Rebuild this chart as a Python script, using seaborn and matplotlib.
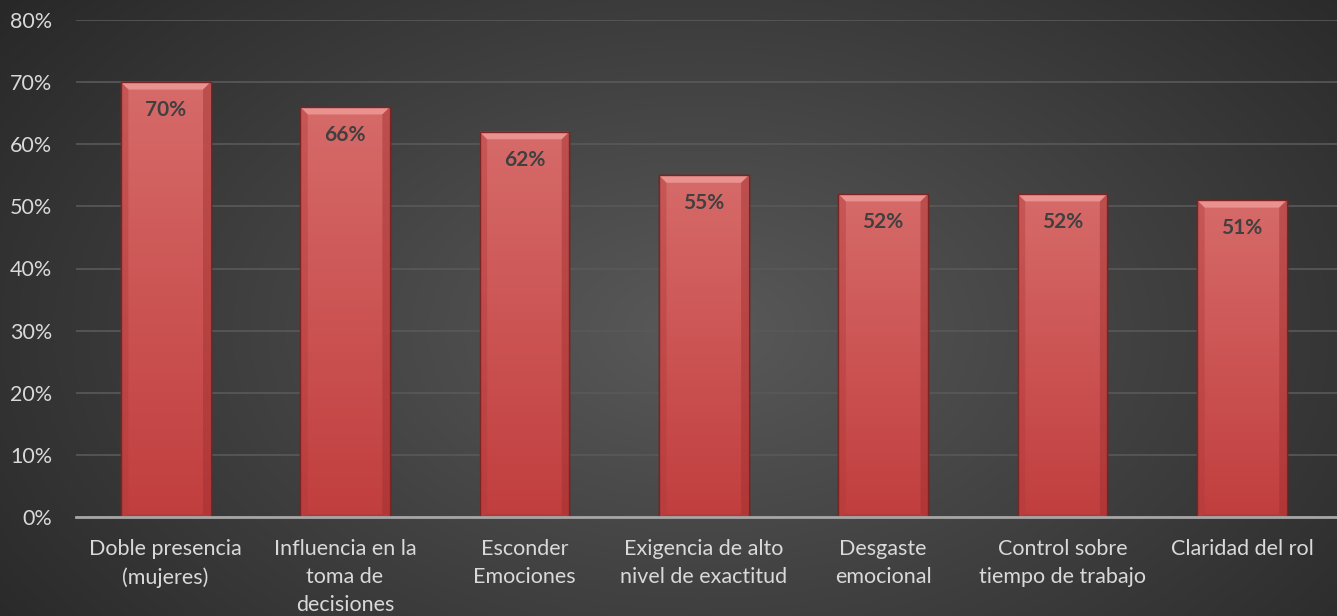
import numpy as np
import pandas as pd
import matplotlib
matplotlib.use("Agg")
import matplotlib.pyplot as plt
import seaborn as sns
from matplotlib.patches import Polygon
from matplotlib.colors import LinearSegmentedColormap

categories = ["Doble presencia\n(mujeres)", "Influencia en la\ntoma de\ndecisiones",
              "Esconder\nEmociones", "Exigencia de alto\nnivel de exactitud",
              "Desgaste\nemocional", "Control sobre\ntiempo de trabajo", "Claridad del rol"]
values = [0.70, 0.66, 0.62, 0.55, 0.52, 0.52, 0.51]
yticks = [0, 0.1, 0.2, 0.3, 0.4, 0.5, 0.6, 0.7, 0.8]

sns.set_style("white")
plt.rcParams['font.family'] = ['Lato', 'DejaVu Sans']

fig = plt.figure(figsize=(13.37, 6.16), dpi=100)

# radial gradient background
bg = fig.add_axes([0, 0, 1, 1], zorder=-10)
yy, xx = np.mgrid[0:616, 0:1337]
cx, cy = 700, 330
r = np.sqrt(((xx - cx) / 1000.0) ** 2 + ((yy - cy) / 620.0) ** 2)
v = np.clip(0.35 - 0.22 * r, 0.13, 0.35)
img = np.dstack([v, v, v])
bg.imshow(img, aspect='auto', extent=[0, 1, 0, 1], origin='upper')
bg.axis('off')

ax = fig.add_axes([76 / 1337, 1 - 517 / 616, 1 - 76 / 1337, (517 - 20) / 616])
ax.patch.set_alpha(0)

df = pd.DataFrame({"cat": categories, "val": values})
sns.barplot(data=df, x="cat", y="val", ax=ax, color="#cc4c4c", width=0.5,
            edgecolor="#6e1f1f", linewidth=1.0, saturation=1, zorder=3)

ax.set_ylim(0, 0.8)
ax.set_xlim(-0.5, len(categories) - 0.5 + 0.03)
ax.set_yticks(yticks)
ax.set_yticklabels([f"{int(round(t * 100))}%" for t in yticks], color="#d9d9d9", fontsize=15.5)
ax.tick_params(axis='x', colors="#d9d9d9", labelsize=15.5, length=0, pad=16)
ax.tick_params(axis='y', length=0, pad=17)
for lab in ax.get_xticklabels():
    lab.set_linespacing(1.5)
ax.set_xlabel("")
ax.set_ylabel("")
ax.grid(axis='y', color="#595959", linewidth=1.2, zorder=0)
ax.set_axisbelow(True)
for s in ["top", "right", "left"]:
    ax.spines[s].set_visible(False)
ax.spines["bottom"].set_color("#a6a6a6")
ax.spines["bottom"].set_linewidth(2)
ax.spines["bottom"].set_zorder(6)

# gradient fill clipped to bars + bevel
grad = np.linspace(0, 1, 256).reshape(-1, 1)
cmap = LinearSegmentedColormap.from_list("bar", ["#c13e3e", "#d66b69"])
dy = 0.012  # bevel height in data units
for p, val in zip(ax.patches, values):
    x0, w = p.get_x(), p.get_width()
    h = p.get_height()
    im = ax.imshow(grad, cmap=cmap, aspect='auto', origin='lower',
                   extent=[x0, x0 + w, 0, h], zorder=4)
    im.set_clip_path(p)
    dx = 0.042
    ax.add_patch(Polygon([[x0, h], [x0 + w, h], [x0 + w - dx, h - dy], [x0 + dx, h - dy]],
                         closed=True, facecolor="#f0a09e", edgecolor="none", alpha=0.75, zorder=5))
    ax.add_patch(Polygon([[x0, h], [x0 + dx, h - dy], [x0 + dx, dy * 0.4], [x0, 0]],
                         closed=True, facecolor="#b03a3a", edgecolor="none", alpha=0.4, zorder=5))
    ax.add_patch(Polygon([[x0 + w, h], [x0 + w - dx, h - dy], [x0 + w - dx, dy * 0.4], [x0 + w, 0]],
                         closed=True, facecolor="#9e2f2f", edgecolor="none", alpha=0.45, zorder=5))
    ax.add_patch(Polygon([[x0, 0], [x0 + w, 0], [x0 + w - dx, dy * 0.4], [x0 + dx, dy * 0.4]],
                         closed=True, facecolor="#a83434", edgecolor="none", alpha=0.5, zorder=5))
    ax.add_patch(plt.Rectangle((x0, 0), w, h, fill=False, edgecolor="#7a2424", linewidth=1.0, zorder=5.5))
    ax.text(x0 + w / 2, h - 0.045, f"{int(round(val * 100))}%", ha='center', va='center',
            fontsize=15, fontweight='bold', color="#404040", zorder=7)

fig.savefig("out.png", dpi=100)
